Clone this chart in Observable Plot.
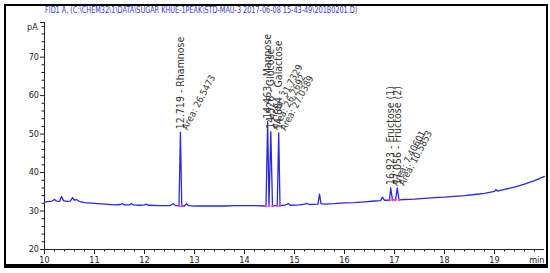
<!DOCTYPE html>
<html><head><meta charset="utf-8">
<script src="https://cdn.jsdelivr.net/npm/d3@7"></script>
<script src="https://cdn.jsdelivr.net/npm/@observablehq/plot@0.6"></script>
<style>
body{margin:0;background:#fff;}
#wrap{position:relative;width:550px;height:273px;overflow:hidden;background:#fff;}
#frame{position:absolute;left:4px;top:4px;width:540px;height:258px;border:2px solid #000;border-bottom-width:4px;pointer-events:none;}
#title{position:absolute;left:45px;top:5px;font:9px "Liberation Sans Narrow","DejaVu Sans Condensed",Arial,sans-serif;color:#3535cc;white-space:nowrap;transform:scaleX(0.8);transform-origin:left top;}
#unit{position:absolute;left:27px;top:22px;font:9px "Liberation Sans Narrow","DejaVu Sans Condensed",Arial,sans-serif;color:#222;}
</style>
</head><body>
<div id="wrap"><div id="chart"></div><div id="title"></div><div id="unit">pA</div><div id="frame"></div></div>
<script>
const titleText = "FID1 A,  (C:\\CHEM32\\1\\DATA\\SUGAR KHUE-1PEAK\\STD-MAU-3 2017-06-08 15-43-49\\201B0201.D)";
const unitLabel = "pA";
const xTicks = [10, 11, 12, 13, 14, 15, 16, 17, 18, 19];
const yTicks = [20, 30, 40, 50, 60, 70];

// chromatogram trace (min, pA)
const times = [10.00,10.10,10.15,10.20,10.24,10.30,10.34,10.38,10.45,10.52,10.56,10.60,10.64,10.68,10.80,11.00,11.20,11.40,11.52,11.56,11.60,11.70,11.74,11.78,11.90,12.00,12.04,12.08,12.30,12.50,12.58,12.62,12.69,12.719,12.745,12.80,12.84,12.88,13.00,13.30,13.60,13.80,14.00,14.20,14.43,14.463,14.49,14.526,14.56,14.62,14.655,14.684,14.71,14.80,14.88,14.92,15.10,15.20,15.24,15.30,15.47,15.50,15.53,15.60,15.80,16.00,16.20,16.40,16.60,16.72,16.76,16.80,16.90,16.923,16.96,17.02,17.056,17.09,17.20,17.40,17.60,17.80,18.00,18.20,18.40,18.60,18.80,19.00,19.03,19.06,19.20,19.40,19.60,19.80,20.00];
const signal = [32.3,32.5,32.6,33.0,32.6,32.5,33.8,32.7,32.5,32.6,33.5,32.8,33.0,32.6,32.2,32.0,31.8,31.6,31.7,31.9,31.6,31.6,31.9,31.6,31.5,31.6,31.8,31.5,31.4,31.4,31.9,31.4,31.4,50.5,31.3,31.3,31.9,31.4,31.3,31.3,31.3,31.4,31.4,31.4,31.3,53.2,31.4,50.6,31.3,31.4,31.4,50.3,31.4,31.5,31.9,31.5,31.6,31.8,32.0,31.7,31.8,34.4,31.9,31.8,31.9,32.1,32.2,32.4,32.6,32.7,33.6,32.8,32.8,36.0,32.9,32.9,36.0,32.9,33.0,33.1,33.3,33.5,33.6,33.8,34.0,34.3,34.6,35.1,35.6,35.2,35.6,36.2,37.0,37.9,39.0];

// labelled peaks
const peakTimes = [12.719, 14.463, 14.526, 14.684, 16.923, 17.056];
const peakHeights = [50.5, 53.2, 50.6, 50.3, 36.0, 36.0];
const peakNames = ["12.719 - Rhamnose", "14.463 - Mannose", "14.526 - Glucose", "14.684 - Galactose", "16.923 - Fructose (1)", "17.056 - Fructose (2)"];
const peakAreas = ["Area: 26.5473", "Area: 31.7329", "Area: 26.2692", "Area: 27.0389", "Area: 7.40601", "Area: 10.5853"];

// integration baseline marks
const markTimes = [12.69, 12.745, 14.43, 14.49, 14.56, 14.655, 14.71, 16.90, 16.96, 17.02, 17.09];
const markLevels = [31.4, 31.3, 31.3, 31.4, 31.3, 31.4, 31.4, 32.8, 32.9, 32.9, 32.9];

document.getElementById("title").textContent = titleText;
document.getElementById("unit").textContent = unitLabel;

const trace = times.map((t, i) => ({t, v: signal[i]}));
const peaks = peakTimes.map((t, i) => ({t, v: peakHeights[i], name: peakNames[i], area: peakAreas[i]}));
const marks = markTimes.map((t, i) => ({t, v: markLevels[i]}));
const xMinor = d3.range(100, 200, 2).map(d => d / 10).filter(d => !xTicks.includes(d));
const yMinor = d3.range(20, 79, 2).filter(d => !yTicks.includes(d));

const font = '"Liberation Sans Narrow","DejaVu Sans Condensed",Arial,sans-serif';

const chart = Plot.plot({
  width: 550, height: 273,
  marginLeft: 44, marginRight: 6, marginTop: 22, marginBottom: 24,
  style: {fontFamily: font, fontSize: "9px", color: "#222", background: "transparent"},
  x: {domain: [10, 20]},
  y: {domain: [20, 79]},
  marks: [
    Plot.axisX(xTicks, {tickSize: 5, tickPadding: 2, label: null, fontSize: 9, stroke: "#222", fill: "#222"}),
    Plot.axisX(xMinor, {tickSize: 2.5, label: null, tickFormat: () => "", stroke: "#222"}),
    Plot.axisY(yTicks, {tickSize: 4, tickPadding: 1.5, label: null, fontSize: 9, stroke: "#222", fill: "#222"}),
    Plot.axisY(yMinor, {tickSize: 2.5, label: null, tickFormat: () => "", stroke: "#222"}),
    Plot.axisY([79], {tickSize: 4, label: null, tickFormat: () => "", stroke: "#222"}),
    Plot.ruleY([20], {stroke: "#222", strokeWidth: 1}),
    Plot.ruleX([10], {stroke: "#222", strokeWidth: 1}),
    Plot.text(["min"], {frameAnchor: "bottom-right", dy: 13, dx: 0, fontSize: 9, fill: "#222", textAnchor: "end"}),
    Plot.line(trace, {x: "t", y: "v", stroke: "#2a2ad8", strokeWidth: 1.3, curve: "linear"}),
    Plot.dot(marks, {x: "t", y: "v", r: 1.3, fill: "#e040e0", stroke: null}),
    Plot.text(peaks, {x: "t", y: "v", text: "name", rotate: -90, textAnchor: "start", dy: -3, fontSize: 10.5, fill: "#333"}),
    Plot.text(peaks, {x: "t", y: "v", text: "area", rotate: -62, textAnchor: "start", dx: 4, dy: -3, fontSize: 9.5, fill: "#333"})
  ]
});
document.getElementById("chart").appendChild(chart);
</script>
</body></html>
